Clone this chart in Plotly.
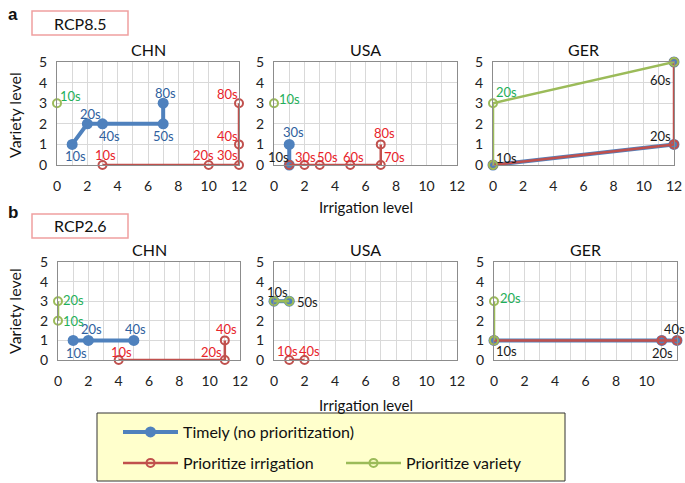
import plotly.graph_objects as go

W, H = 685, 483

# ---------------- data ----------------
# RCP8.5
chn85_timely_x = [1, 2, 3, 7, 7]; chn85_timely_y = [1, 2, 2, 2, 3]; chn85_timely_lab = ["10s", "20s", "40s", "50s", "80s"]
chn85_irrig_x = [3, 10, 12, 12, 12]; chn85_irrig_y = [0, 0, 0, 1, 3]; chn85_irrig_lab = ["10s", "20s", "30s", "40s", "80s"]
chn85_var_x = [0]; chn85_var_y = [3]; chn85_var_lab = ["10s"]
chn85_shared_x = []; chn85_shared_y = []; chn85_shared_lab = []

usa85_timely_x = [1, 1]; usa85_timely_y = [0, 1]; usa85_timely_lab = ["", "30s"]
usa85_irrig_x = [1, 2, 3, 5, 7, 7]; usa85_irrig_y = [0, 0, 0, 0, 0, 1]; usa85_irrig_lab = ["", "30s", "50s", "60s", "70s", "80s"]
usa85_var_x = [0]; usa85_var_y = [3]; usa85_var_lab = ["10s"]
usa85_shared_x = [1]; usa85_shared_y = [0]; usa85_shared_lab = ["10s"]

ger85_timely_x = [0, 12, None, 12]; ger85_timely_y = [0, 1, None, 5]; ger85_timely_lab = ["", "", "", ""]
ger85_irrig_x = [0, 12, 12]; ger85_irrig_y = [0, 1, 5]; ger85_irrig_lab = ["", "", ""]
ger85_var_x = [0, 0, 12]; ger85_var_y = [0, 3, 5]; ger85_var_lab = ["", "20s", ""]
ger85_shared_x = [0, 12, 12]; ger85_shared_y = [0, 1, 5]; ger85_shared_lab = ["10s", "20s", "60s"]

# RCP2.6
chn26_timely_x = [1, 2, 5]; chn26_timely_y = [1, 1, 1]; chn26_timely_lab = ["10s", "20s", "40s"]
chn26_irrig_x = [4, 11, 11]; chn26_irrig_y = [0, 0, 1]; chn26_irrig_lab = ["10s", "20s", "40s"]
chn26_var_x = [0, 0]; chn26_var_y = [2, 3]; chn26_var_lab = ["10s", "20s"]
chn26_shared_x = []; chn26_shared_y = []; chn26_shared_lab = []

usa26_timely_x = [0, 1]; usa26_timely_y = [3, 3]; usa26_timely_lab = ["", ""]
usa26_irrig_x = [1, 2]; usa26_irrig_y = [0, 0]; usa26_irrig_lab = ["10s", "40s"]
usa26_var_x = [0, 1]; usa26_var_y = [3, 3]; usa26_var_lab = ["", ""]
usa26_shared_x = [0, 1]; usa26_shared_y = [3, 3]; usa26_shared_lab = ["10s", "50s"]

ger26_timely_x = [0, 11, 12]; ger26_timely_y = [1, 1, 1]; ger26_timely_lab = ["", "", ""]
ger26_irrig_x = [0, 11, 12]; ger26_irrig_y = [1, 1, 1]; ger26_irrig_lab = ["", "", ""]
ger26_var_x = [0, 0]; ger26_var_y = [1, 3]; ger26_var_lab = ["", "20s"]
ger26_shared_x = [0, 11, 12]; ger26_shared_y = [1, 1, 1]; ger26_shared_lab = ["10s", "20s", "40s"]

countries = ["CHN", "USA", "GER"]
x_ticks = [0, 2, 4, 6, 8, 10, 12]
y_ticks = [0, 1, 2, 3, 4, 5]

# ---------------- styles: label offsets from their point, in px (dx, dy up) ----------------
N = None
offsets = {
    "chn85": dict(timely=[(3, -12), (3, 10), (7, -12), (0, -12), (2, 10)],
                  irrig=[(3, 10), (-5, 10), (-12, 10), (-12, 8), (-12, 9)],
                  var=[(13, 7)], shared=[]),
    "usa85": dict(timely=[N, (4, 12)], irrig=[N, (1, 8), (8, 8), (3, 8), (14, 8), (4, 11)],
                  var=[(15, 4)], shared=[(-11, 8)]),
    "ger85": dict(timely=[N] * 4, irrig=[N] * 3, var=[N, (13, 11), N],
                  shared=[(13, 7), (-14, 8), (-14, -18)]),
    "chn26": dict(timely=[(3, -13), (3, 11), (2, 11)], irrig=[(3, 8), (-13, 8), (2, 11)],
                  var=[(15, 0), (15, 1)], shared=[]),
    "usa26": dict(timely=[N, N], irrig=[(-2, 9), (5, 9)], var=[N, N], shared=[(3, 9), (18, -1)]),
    "ger26": dict(timely=[N] * 3, irrig=[N] * 3, var=[N, (16, 3)],
                  shared=[(12, -11), (1, -13), (-3, 11)]),
}

BLUE, RED, GREEN = "#4F81BD", "#C0504D", "#9BBB59"
BLUE_T, RED_T, GREEN_T, BLACK_T = "#2F5F9E", "#E8242A", "#1FAF5A", "#1a1a1a"
FONT = "Lato"

panels = [
    ("chn85", 1, 1), ("usa85", 1, 2), ("ger85", 1, 3),
    ("chn26", 2, 1), ("usa26", 2, 2), ("ger26", 2, 3),
]
data = globals()

# pixel domains
xdom_px = {
    (1, 1): (57, 239), (1, 2): (274, 457), (1, 3): (493, 674),
    (2, 1): (58, 240), (2, 2): (274, 457), (2, 3): (494, 677),
}
ydom_px = {1: (62, 165), 2: (262, 360)}

fig = go.Figure()
layout_axes = {}
annotations = []
legend_done = {"timely": False, "irrig": False, "var": False}

for idx, (key, r, c) in enumerate(panels):
    n = idx + 1
    xa = "x" if n == 1 else f"x{n}"
    ya = "y" if n == 1 else f"y{n}"
    xl = "xaxis" if n == 1 else f"xaxis{n}"
    yl = "yaxis" if n == 1 else f"yaxis{n}"
    x0, x1 = xdom_px[(r, c)]
    y0, y1 = ydom_px[r]
    layout_axes[xl] = dict(
        domain=[x0 / W, x1 / W], range=[0, 12], anchor=ya, automargin=False,
        tickmode="array", tickvals=x_ticks, showgrid=True, gridcolor="#d9d9d9", gridwidth=1,
        minor=dict(dtick=1, showgrid=True, gridcolor="#d9d9d9"),
        showline=True, mirror=True, linecolor="#8c8c8c", linewidth=1, zeroline=False,
        ticks="", ticklabelstandoff=8, tickfont=dict(size=14, color="#222", family=FONT),
    )
    layout_axes[yl] = dict(
        domain=[1 - y1 / H, 1 - y0 / H], range=[0, 5], anchor=xa, automargin=False,
        tickmode="array", tickvals=y_ticks, showgrid=True, gridcolor="#d9d9d9", gridwidth=1,
        showline=True, mirror=True, linecolor="#8c8c8c", linewidth=1, zeroline=False,
        ticks="", ticklabelstandoff=6, tickfont=dict(size=14, color="#222", family=FONT),
    )
    # series
    specs = [
        ("timely", "Timely (no prioritization)", BLUE, 4, dict(size=11, color=BLUE, symbol="circle"), "legend"),
        ("irrig", "Prioritize irrigation", RED, 2.5, dict(size=8, color=RED, symbol="circle-open", line=dict(width=2)), "legend2"),
        ("var", "Prioritize variety", GREEN, 2.5, dict(size=8, color=GREEN, symbol="circle-open", line=dict(width=2)), "legend2"),
    ]
    for s, name, col, lw, mk, leg in specs:
        xs = data[f"{key}_{s}_x"]; ys = data[f"{key}_{s}_y"]
        show = not legend_done[s]
        legend_done[s] = True
        fig.add_trace(go.Scatter(
            x=xs, y=ys, mode="lines+markers", name=name, xaxis=xa, yaxis=ya,
            line=dict(color=col, width=lw), marker=mk, cliponaxis=False,
            showlegend=show, legend=leg, hoverinfo="skip",
        ))
    # decade labels
    for s, tcol in [("timely", BLUE_T), ("irrig", RED_T), ("var", GREEN_T), ("shared", BLACK_T)]:
        xs = data[f"{key}_{s}_x"]; ys = data[f"{key}_{s}_y"]; labs = data[f"{key}_{s}_lab"]
        for xv, yv, lab, off in zip(xs, ys, labs, offsets[key][s]):
            if not lab or off is None:
                continue
            annotations.append(dict(text=lab, x=xv, y=yv, xref=xa, yref=ya,
                                    xshift=off[0], yshift=off[1], xanchor="center", yanchor="middle",
                                    showarrow=False, font=dict(size=13, color=tcol, family=FONT)))
    # panel title
    annotations.append(dict(text=countries[c - 1], x=(x0 + x1) / 2 / W, y=1 - (y0 - 1) / H,
                            xref="paper", yref="paper", xanchor="center", yanchor="bottom",
                            showarrow=False, font=dict(size=16, color="#111", family=FONT)))

# axis titles
for yc in (115, 311):
    annotations.append(dict(text="Variety level", x=14 / W, y=1 - yc / H, xref="paper", yref="paper",
                            xanchor="center", yanchor="middle",
                            textangle=-90, showarrow=False, font=dict(size=16, color="#111", family=FONT)))
for yc in (207, 405):
    annotations.append(dict(text="Irrigation level", x=366 / W, y=1 - yc / H, xref="paper", yref="paper",
                            xanchor="center", yanchor="middle",
                            showarrow=False, font=dict(size=15, color="#111", family=FONT)))
# panel letters and scenario boxes
for letter, yc in (("a", 15), ("b", 212)):
    annotations.append(dict(text=f"<b>{letter}</b>", x=13 / W, y=1 - yc / H, xref="paper", yref="paper",
                            xanchor="center", yanchor="middle",
                            showarrow=False, font=dict(size=17, color="#111", family="Liberation Sans")))
shapes = []
for label, (t, b) in (("RCP8.5", (11, 35)), ("RCP2.6", (214, 238))):
    shapes.append(dict(type="rect", xref="paper", yref="paper", x0=32 / W, x1=128 / W,
                       y0=1 - b / H, y1=1 - t / H, line=dict(color="#F0A0A0", width=1.5)))
    annotations.append(dict(text=label, x=80 / W, y=1 - (t + b) / 2 / H, xref="paper", yref="paper",
                            xanchor="center", yanchor="middle",
                            showarrow=False, font=dict(size=16, color="#111", family=FONT)))
# legend box
shapes.append(dict(type="rect", xref="paper", yref="paper", x0=97 / W, x1=565 / W,
                   y0=1 - 481 / H, y1=1 - 413 / H, fillcolor="#FFFFCC",
                   line=dict(color="#333", width=1), layer="below"))

fig.update_layout(
    width=W, height=H, margin=dict(l=0, r=0, t=0, b=0, autoexpand=False),
    paper_bgcolor="white", plot_bgcolor="rgba(0,0,0,0)",
    font=dict(family=FONT, color="#111"),
    annotations=annotations, shapes=shapes,
    legend=dict(x=118 / W, y=1 - 432 / H, xanchor="left", yanchor="middle", orientation="h",
                bgcolor="rgba(0,0,0,0)", itemwidth=55, font=dict(size=16, family=FONT, color="#111")),
    legend2=dict(x=118 / W, y=1 - 463 / H, xanchor="left", yanchor="middle", orientation="h",
                 bgcolor="rgba(0,0,0,0)", itemwidth=55, entrywidth=153,
                 font=dict(size=16, family=FONT, color="#111")),
    **layout_axes,
)

fig.write_html("out.html", config={"displayModeBar": False, "staticPlot": True},
               post_script="document.body.style.margin='0px';document.body.style.overflow='hidden';")
